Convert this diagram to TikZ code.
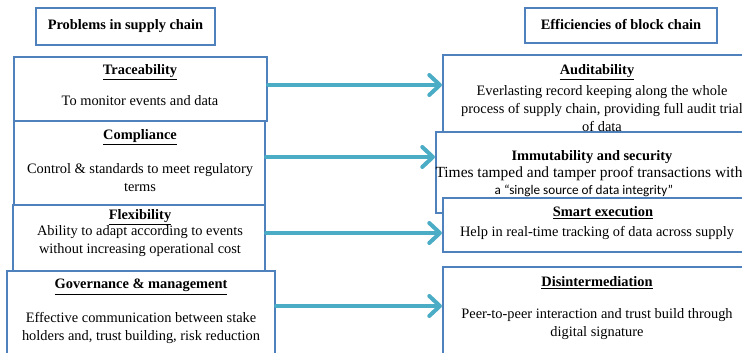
\documentclass[tikz,border=0pt]{standalone}
\usepackage{fontspec}
\setmainfont{Liberation Serif}
\newfontfamily\calibrifont{Carlito}
\usetikzlibrary{arrows.meta,fit}
\definecolor{boxblue}{HTML}{4F81BD}
\definecolor{arrowteal}{HTML}{4BACC6}
\begin{document}
\begin{tikzpicture}[x=0.75pt,y=-0.75pt,
  panel/.style={draw=boxblue,line width=1.6pt,fill=white,inner sep=0pt},
  txt/.style={inner sep=0pt,align=center,font=\fontsize{10.8}{13.5}\selectfont},
  head/.style={inner sep=0pt,font=\fontsize{10.8}{13.5}\selectfont\bfseries},
  flow/.style={draw=arrowteal,line width=3pt,line cap=round,
    -{Straight Barb[length=8pt,width=15pt,line cap=round,line join=round]}}]
\clip (0,0) rectangle (742,353);
\fill[white] (0,0) rectangle (742,353);

% title boxes
\node[panel,fit={(36,8) (215,45)}] (ltitle) {};
\node[head] (ltitletxt) at (125.5,26) {Problems in supply chain};
\node[panel,fit={(525,8) (717,43)}] (rtitle) {};
\node[head] (rtitletxt) at (621,25) {Efficiencies of block chain};

% left boxes
\node[panel,fit={(14,57) (267,121)}] (trace) {};
\node[panel,fit={(14,121) (265,205)}] (comp) {};
\node[panel,fit={(13,205) (265,271)}] (flex) {};
\node[panel,fit={(7,271) (275,362)}] (gov) {};

\node[head] (traceh) at (140,72) {\underline{Traceability}};
\node[txt] (tracet) at (140,101) {To monitor events and data};
\node[head] (comph) at (140,137) {\underline{Compliance}};
\node[txt] (compt) at (140,178) {Control \& standards to meet regulatory\\terms};
\node[head] (flexh) at (140,217) {\underline{Flexibility}};
\node[txt] (flext) at (140,241.5) {Ability to adapt according to events\\without increasing operational cost};
\node[head] (govh) at (141,287) {\underline{Governance \& management}};
\node[txt] (govt) at (141,327.5) {Effective communication between stake\\holders and, trust building, risk reduction};

% right boxes
\node[panel,fit={(443,55) (750,150)}] (audit) {};
\node[panel,fit={(436,132) (750,213)}] (immu) {};
\node[panel,fit={(443,198) (750,252)}] (smart) {};
\node[panel,fit={(443,267) (750,362)}] (disi) {};

\node[head] (audith) at (597,72) {\underline{Auditability}};
\node[txt] (auditt) at (602,109) {Everlasting record keeping along the whole\\process of supply chain, providing full audit trial\\of data};
\node[head] (immuh) at (592,157) {Immutability and security};
\node[inner sep=0pt,font=\fontsize{11.6}{13.5}\selectfont] (immut) at (589,174) {Times tamped and tamper proof transactions with};
\node[inner sep=0pt,font=\calibrifont\fontsize{9.9}{12}\selectfont] (immut2) at (584,191) {a “single source of data integrity”};
\node[head] (smarth) at (603,213) {\underline{Smart execution}};
\node[txt] (smartt) at (597,233) {Help in real-time tracking of data across supply};
\node[head] (disih) at (597,283) {\underline{Disintermediation}};
\node[txt] (disit) at (597,324) {Peer-to-peer interaction and trust build through\\digital signature};

% arrows
\draw[flow] (trace.east |- 0,85) -- (audit.west |- 0,85);
\draw[flow] (comp.east |- 0,157) -- (immu.west |- 0,157);
\draw[flow] (flex.east |- 0,233) -- (smart.west |- 0,233);
\draw[flow] (gov.east |- 0,306) -- (disi.west |- 0,306);
\end{tikzpicture}
\end{document}
